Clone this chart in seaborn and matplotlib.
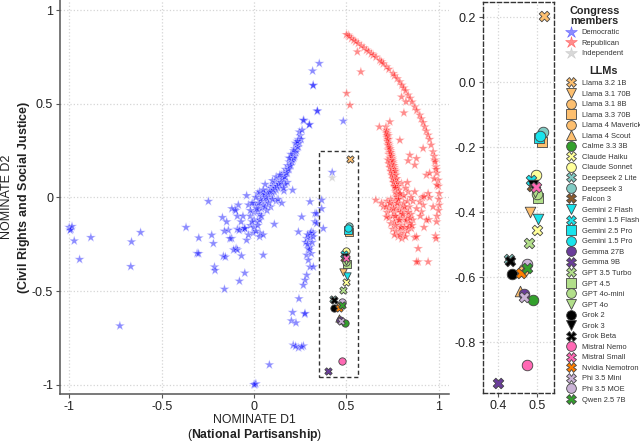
import numpy as np
import pandas as pd
import matplotlib
matplotlib.use("Agg")
import matplotlib.pyplot as plt
from matplotlib.lines import Line2D
from matplotlib.patches import Rectangle
import seaborn as sns

sns.set_style("white")
plt.rcParams['font.family'] = ['Liberation Sans', 'DejaVu Sans']
plt.rcParams['mathtext.fontset'] = 'custom'
plt.rcParams['mathtext.rm'] = 'Liberation Sans'
plt.rcParams['mathtext.bf'] = 'Liberation Sans:bold'
plt.rcParams['axes.unicode_minus'] = False

# ---------------- Congress members ----------------
dem_x = [-1.0, -0.99, -0.985, -0.995, -0.973, -0.944, -0.883, -0.663, -0.667, -0.614, -0.726,
         -0.368, -0.299, -0.308, -0.30, -0.247, -0.229, -0.22, -0.214, -0.211, -0.171, -0.166,
         -0.155, -0.16, -0.148, -0.139, -0.16, -0.121, -0.103, -0.097, -0.09, -0.079, -0.068,
         -0.05, -0.09, -0.06, -0.05, -0.04, -0.004, 0.032, 0.05, 0.083, 0.005, 0.01, 0.0, 0.11,
         0.162, -0.12, -0.11, -0.13,
         -0.04, -0.085, -0.1, -0.09, -0.06, -0.07, -0.08, -0.05, -0.03, -0.02, 0.0, 0.0, 0.02,
         0.01, 0.03, 0.05,
         -0.02, 0.0, 0.01, 0.02, 0.03, 0.03, 0.04, 0.04, 0.05, 0.05, 0.06, 0.06, 0.07, 0.07,
         0.08, 0.08, 0.09, 0.09, 0.10, 0.10, 0.11, 0.11, 0.12, 0.12, 0.13, 0.13, 0.14, 0.14,
         0.15, 0.15, 0.16, 0.16, 0.17, 0.17, 0.18, 0.18, 0.19, 0.19, 0.20, 0.20, 0.21, 0.21,
         0.22, 0.22, 0.23, 0.23, 0.24, 0.24, 0.25, 0.245, 0.26, 0.27, 0.30, 0.32, 0.342, 0.353,
         0.317, 0.32, 0.343, 0.483, 0.267, 0.299, 0.209, 0.06, 0.09, 0.12, 0.02, 0.18, 0.13,
         0.15, 0.07, 0.0, -0.03,
         0.303, 0.366, 0.33, 0.258, 0.24, 0.285, 0.28, 0.294, 0.285, 0.294, 0.303, 0.285, 0.276,
         0.267, 0.243, 0.209, 0.202, 0.227, 0.274, 0.212, 0.241, 0.267, 0.225, 0.312, 0.31, 0.33,
         0.339, 0.375, 0.366, 0.32, 0.339, 0.303, 0.321, 0.30, 0.29, 0.31, 0.276, 0.258, 0.30,
         0.315, 0.32, 0.305, 0.29, 0.423]
dem_y = [-0.16, -0.17, -0.155, -0.175, -0.232, -0.331, -0.214, -0.237, -0.369, -0.187, -0.686,
         -0.16, -0.216, -0.299, -0.30, -0.021, -0.201, -0.246, -0.371, -0.39, -0.107, -0.314,
         -0.318, -0.49, -0.13, -0.175, -0.18, -0.219, -0.063, -0.273, -0.28, -0.447, -0.312,
         -0.404, -0.17, -0.17, -0.165, -0.228, -0.19, -0.19, -0.308, -0.894, -1.0, -0.995, -1.0,
         -0.143, 0.035, -0.06, -0.28, -0.22,
         0.01, -0.04, -0.07, -0.1, -0.1, -0.13, -0.175, -0.166, -0.2, -0.15, -0.12, -0.16, -0.13,
         -0.18, -0.21, -0.2,
         -0.1, -0.08, -0.05, -0.07, -0.04, -0.09, -0.02, -0.06, 0.0, -0.04, 0.02, -0.02, 0.03,
         -0.01, 0.04, 0.0, 0.05, 0.01, 0.06, 0.02, 0.07, 0.03, 0.08, 0.04, 0.09, 0.05, 0.1, 0.06,
         0.12, 0.08, 0.13, 0.09, 0.15, 0.11, 0.17, 0.13, 0.19, 0.15, 0.21, 0.17, 0.23, 0.2,
         0.26, 0.22, 0.28, 0.25, 0.31, 0.27, 0.33, 0.35, 0.36, 0.41, 0.39, 0.6, 0.46, 0.716,
         0.676, 0.598, 0.463, 0.408, 0.413, 0.388, 0.039, 0.07, -0.05, -0.02, 0.02, 0.08, -0.01,
         -0.03, -0.07, -0.03, -0.04,
         -0.023, -0.014, -0.086, -0.104, -0.184, -0.219, -0.24, -0.273, -0.308, -0.335, -0.371,
         -0.415, -0.442, -0.469, -0.541, -0.614, -0.659, -0.67, -0.623, -0.789, -0.803, -0.793,
         -0.795, -0.184, -0.2, -0.13, -0.086, -0.166, -0.06, -0.19, -0.139, -0.264, -0.371,
         -0.22, -0.25, -0.30, -0.62, -0.798, -0.28, -0.24, -0.21, -0.19, -0.2, 0.134]
# dense core of the Democratic band
dem_core_x = [0.015, 0.025, 0.035, 0.045, 0.055, 0.065, 0.075, 0.085, 0.095, 0.105, 0.115, 0.125,
              0.135, 0.145, 0.155, 0.165, 0.175, 0.185, 0.195, 0.205, 0.215, 0.225, 0.235, 0.245,
              0.255, 0.215, 0.225, 0.235, 0.2, 0.19, 0.03, 0.02, 0.04, 0.06, 0.08, 0.1, -0.01,
              -0.02, -0.01, 0.01, 0.03, 0.05, 0.1, 0.12, 0.14, 0.17, 0.16]
dem_core_y = [-0.06, -0.03, -0.01, 0.01, 0.02, 0.0, 0.02, 0.03, 0.03, 0.04, 0.05, 0.06, 0.07,
              0.08, 0.1, 0.11, 0.13, 0.15, 0.17, 0.19, 0.21, 0.24, 0.27, 0.29, 0.31, 0.25, 0.29,
              0.3, 0.23, 0.21, -0.12, -0.15, -0.1, -0.05, -0.03, -0.01, -0.13, -0.07, -0.03, 0.0,
              0.03, 0.04, 0.09, 0.11, 0.12, 0.07, 0.05]

rep_x = [0.51, 0.50, 0.515, 0.528, 0.54, 0.55, 0.564, 0.58, 0.595, 0.609, 0.62, 0.635, 0.645,
         0.66, 0.681, 0.69, 0.70, 0.717, 0.73, 0.753, 0.76, 0.775, 0.789, 0.80, 0.81, 0.82,
         0.834, 0.845, 0.855, 0.87, 0.88, 0.897, 0.905, 0.915, 0.924, 0.932, 0.942, 0.95, 0.958,
         0.969, 0.975, 0.978, 0.984, 0.99, 0.996, 0.998, 1.002, 1.0, 1.002, 0.998, 0.99,
         0.559, 0.578, 0.501, 0.519, 0.678, 0.735, 0.798, 0.822, 0.811, 0.789, 0.915, 0.843,
         0.879, 0.834, 0.87, 0.933, 0.95, 0.975, 0.659, 0.915, 0.95, 0.98, 0.985, 0.99, 0.942,
         0.969, 0.906, 0.897, 0.946, 0.988, 0.982, 0.985, 0.87, 0.888, 0.888, 0.942, 0.879,
         0.879, 0.852, 0.798, 0.834, 0.87, 0.911, 0.92,
         0.714, 0.717, 0.72, 0.722, 0.724, 0.726, 0.73, 0.735, 0.74, 0.744, 0.748, 0.75, 0.753,
         0.757, 0.762, 0.765, 0.771, 0.73, 0.735, 0.74, 0.745, 0.75, 0.755, 0.76, 0.765, 0.77,
         0.775, 0.73, 0.728, 0.738, 0.742, 0.748, 0.752, 0.758, 0.762, 0.768, 0.772, 0.718,
         0.722, 0.727,
         0.72, 0.74, 0.76, 0.78, 0.80, 0.73, 0.75, 0.77, 0.79, 0.81, 0.83, 0.72, 0.74, 0.76,
         0.78, 0.80, 0.82, 0.84, 0.73, 0.75, 0.77, 0.79, 0.81, 0.83, 0.85, 0.74, 0.76, 0.78,
         0.80, 0.82, 0.84, 0.86, 0.75, 0.77, 0.79, 0.81, 0.83, 0.78, 0.80, 0.76, 0.717, 0.789,
         0.843, 0.933, 0.70, 0.69, 0.88, 0.86, 0.9, 0.92]
rep_y = [0.867, 0.87, 0.86, 0.849, 0.84, 0.832, 0.823, 0.81, 0.8, 0.787, 0.78, 0.768, 0.76,
         0.75, 0.733, 0.725, 0.715, 0.698, 0.685, 0.662, 0.65, 0.635, 0.618, 0.6, 0.585, 0.57,
         0.547, 0.53, 0.51, 0.484, 0.465, 0.44, 0.42, 0.4, 0.377, 0.355, 0.333, 0.31, 0.28,
         0.244, 0.22, 0.2, 0.164, 0.13, 0.092, 0.06, 0.021, -0.01, -0.041, -0.07, -0.1,
         0.778, 0.671, 0.556, 0.493, 0.377, 0.404, 0.537, 0.511, 0.452, 0.306, 0.262, 0.226,
         0.208, 0.196, 0.173, 0.119, 0.13, 0.1, -0.014, -0.041, 0.0, 0.19, 0.15, 0.066, 0.021,
         -0.05, -0.077, -0.023, -0.118, -0.13, -0.205, -0.22, -0.214, -0.273, -0.344, -0.344,
         -0.21, -0.344, -0.166, 0.075, 0.03, 0.03, 0.0, 0.005,
         0.377, 0.342, 0.32, 0.30, 0.28, 0.253, 0.23, 0.21, 0.19, 0.182, 0.15, 0.13, 0.11, 0.08,
         0.057, 0.03, 0.003, 0.26, 0.24, 0.22, 0.2, 0.17, 0.14, 0.12, 0.09, 0.06, 0.04, 0.28,
         0.31, 0.25, 0.23, 0.21, 0.18, 0.16, 0.13, 0.10, 0.07, 0.36, 0.34, 0.33,
         -0.02, -0.01, -0.02, -0.01, 0.0, -0.05, -0.04, -0.05, -0.04, -0.03, -0.02, -0.08, -0.07,
         -0.08, -0.07, -0.06, -0.07, -0.05, -0.11, -0.10, -0.11, -0.10, -0.11, -0.10, -0.09,
         -0.14, -0.13, -0.14, -0.15, -0.13, -0.14, -0.12, -0.17, -0.18, -0.17, -0.19, -0.18,
         -0.21, -0.22, -0.20, -0.104, -0.121, -0.139, -0.121, -0.05, -0.03, -0.06, -0.02, -0.1,
         -0.16]
# dense core of the Republican wedge and blob
rep_core_x = [0.716, 0.72, 0.724, 0.728, 0.732, 0.736, 0.74, 0.744, 0.748, 0.752, 0.756, 0.76,
              0.764, 0.768, 0.772, 0.776, 0.78, 0.784, 0.788, 0.725, 0.73, 0.735, 0.74, 0.745,
              0.75, 0.755, 0.76, 0.765, 0.77, 0.775, 0.78,
              0.715, 0.735, 0.755, 0.775, 0.795, 0.815, 0.835, 0.765, 0.785, 0.805, 0.825, 0.845,
              0.765, 0.795, 0.815, 0.835, 0.855, 0.79, 0.82, 0.81, 0.79, 0.82, 0.85, 0.83]
rep_core_y = [0.35, 0.33, 0.31, 0.29, 0.27, 0.26, 0.24, 0.22, 0.20, 0.19, 0.17, 0.15, 0.14,
              0.12, 0.10, 0.08, 0.06, 0.04, 0.02, 0.20, 0.18, 0.16, 0.14, 0.12, 0.10, 0.08, 0.06,
              0.05, 0.02, 0.0, -0.01,
              -0.05, -0.03, -0.06, -0.03, -0.08, -0.05, -0.08, -0.10, -0.12, -0.09, -0.12, -0.11,
              -0.15, -0.16, -0.16, -0.16, -0.15, -0.20, -0.21, 0.01, 0.02, 0.05, 0.0, 0.08]

ind_x = [0.423]
ind_y = [0.105]

# ---------------- LLMs ----------------
llm_names = ["Llama 3.2 1B", "Llama 3.1 70B", "Llama 3.1 8B", "Llama 3.3 70B", "Llama 4 Maverick",
             "Llama 4 Scout", "Calme 3.3 3B", "Claude Haiku", "Claude Sonnet", "Deepseek 2 Lite",
             "Deepseek 3", "Falcon 3", "Gemini 2 Flash", "Gemini 1.5 Flash", "Gemini 2.5 Pro",
             "Gemini 1.5 Pro", "Gemma 27B", "Gemma 9B", "GPT 3.5 Turbo", "GPT 4.5", "GPT 4o-mini",
             "GPT 4o", "Grok 2", "Grok 3", "Grok Beta", "Mistral Nemo", "Mistral Small",
             "Nvidia Nemotron", "Phi 3.5 Mini", "Phi 3.5 MOE", "Qwen 2.5 7B"]
llm_x = [0.519, 0.484, 0.468, 0.513, 0.464, 0.458, 0.490, 0.500, 0.498, 0.428, 0.516, 0.489,
         0.503, 0.485, 0.507, 0.509, 0.466, 0.400, 0.481, 0.503, 0.500, 0.496, 0.435, 0.491,
         0.430, 0.474, 0.498, 0.459, 0.468, 0.476, 0.474]
llm_y = [0.205, -0.400, -0.575, -0.183, -0.580, -0.642, -0.672, -0.454, -0.285, -0.543, -0.154,
         -0.321, -0.420, -0.301, -0.172, -0.165, -0.652, -0.925, -0.495, -0.355, -0.345, -0.338,
         -0.591, -0.316, -0.549, -0.872, -0.323, -0.588, -0.660, -0.559, -0.572]
llm_colors = ["#FDBF6F"] * 6 + ["#33A02C"] + ["#FFFF99"] * 2 + ["#80CBC4"] * 2 + ["#8B5A2B"] + \
             ["#19E3EC"] * 4 + ["#6A3D9A"] * 2 + ["#B2DF8A"] * 4 + ["#000000"] * 3 + \
             ["#FF69B4"] * 2 + ["#FF7F00"] + ["#CAB2D6"] * 2 + ["#33A02C"]
llm_markers = ["X", "v", "o", "s", "o", "^", "o", "X", "o", "X", "o", "X", "v", "X", "s", "o",
               "o", "X", "X", "s", "o", "v", "o", "v", "X", "o", "X", "X", "X", "o", "X"]

DEM_C, REP_C, IND_C = "#0000FF", "#FF0000", "#AAAAAA"

all_dem_x = dem_x + dem_core_x
all_dem_y = dem_y + dem_core_y
all_rep_x = rep_x + rep_core_x
all_rep_y = rep_y + rep_core_y
congress = pd.DataFrame({
    "x": all_dem_x + all_rep_x + ind_x,
    "y": all_dem_y + all_rep_y + ind_y,
    "party": ["Democratic"] * len(all_dem_x) + ["Republican"] * len(all_rep_x)
             + ["Independent"] * len(ind_x),
})
pal = dict(zip(llm_names, llm_colors))
mk = dict(zip(llm_names, llm_markers))

fig = plt.figure(figsize=(6.4, 4.42), dpi=100)
ax = fig.add_axes([60 / 640, 1 - 394 / 442, 389 / 640, 394 / 442])
ax2 = fig.add_axes([483 / 640, 1 - 393 / 442, 71 / 640, 391 / 442])

sns.scatterplot(data=congress, x="x", y="y", hue="party", marker="*", s=56,
                palette={"Democratic": DEM_C, "Republican": REP_C, "Independent": IND_C},
                alpha=0.45, linewidth=0.5, legend=False, ax=ax, zorder=2)
for a, s_llm in [(ax, 28), (ax2, 58)]:
    for name, xx, yy in zip(llm_names, llm_x, llm_y):
        sns.scatterplot(x=[xx], y=[yy], color=pal[name], marker=mk[name], s=s_llm,
                        edgecolor="#444444", linewidth=0.6, legend=False, ax=a, zorder=3)

# main axes styling
ax.set_xlim(-1.05, 1.055)
ax.set_ylim(-1.05, 1.055)
ax.set_xticks([-1, -0.5, 0, 0.5, 1])
ax.set_xticklabels(["-1", "-0.5", "0", "0.5", "1"])
ax.set_yticks([-1, -0.5, 0, 0.5, 1])
ax.set_yticklabels(["-1", "-0.5", "0", "0.5", "1"])
ax.grid(True, color="#D5D5D5", linestyle=":", linewidth=0.9)
ax.set_axisbelow(True)
for sp in ["top", "right"]:
    ax.spines[sp].set_visible(False)
for sp in ["left", "bottom"]:
    ax.spines[sp].set_color("#555555")
    ax.spines[sp].set_linewidth(1.1)
ax.tick_params(axis="both", which="both", direction="out", length=3, width=0.8,
               color="#555555", labelsize=9, labelcolor="#222222", left=True, bottom=True, pad=2)
ax.set_xlabel("NOMINATE D1\n" + r"($\bf{National\ Partisanship}$)", fontsize=8.8, color="#222222",
              linespacing=1.1, labelpad=0.5)
ax.set_ylabel("NOMINATE D2\n" + r"$\bf{(Civil\ Rights\ and\ Social\ Justice)}$", fontsize=9,
              color="#222222", linespacing=1.25)
ax.yaxis.set_label_coords(-0.072, 0.5)
ax.add_patch(Rectangle((0.35, -0.96), 0.21, 1.21, fill=False, edgecolor="#333333",
                       linestyle=(0, (3, 2)), linewidth=1.0, zorder=4))

# zoom axes styling
ax2.set_xlim(0.361, 0.545)
ax2.set_ylim(-0.957, 0.247)
ax2.set_xticks([0.4, 0.5])
ax2.set_xticklabels(["0.4", "0.5"])
ax2.set_yticks([0.2, 0.0, -0.2, -0.4, -0.6, -0.8])
ax2.set_yticklabels(["0.2", "0.0", "-0.2", "-0.4", "-0.6", "-0.8"])
ax2.grid(True, color="#D5D5D5", linestyle=":", linewidth=0.9)
ax2.set_axisbelow(True)
for sp in ax2.spines.values():
    sp.set_visible(True)
    sp.set_color("#333333")
    sp.set_linestyle((0, (3, 2)))
    sp.set_linewidth(1.0)
ax2.tick_params(axis="both", direction="out", length=3, width=0.8, color="#555555",
                labelsize=9, labelcolor="#222222", left=True, bottom=True, pad=2)
ax2.set_xlabel("")
ax2.set_ylabel("")

# legends
cong_handles = [Line2D([], [], marker="*", linestyle="None", markersize=9, color=c, alpha=0.45,
                       markeredgewidth=0.4)
                for c in [DEM_C, REP_C, IND_C]]
leg1 = fig.legend(cong_handles, ["Democratic", "Republican", "Independent"], loc="upper left",
                  bbox_to_anchor=(562 / 640, 1 - 1 / 442), frameon=False, fontsize=5.4,
                  title="Congress\nmembers", title_fontproperties={"weight": "bold", "size": 7.8},
                  handletextpad=0.8, labelspacing=0.45, borderpad=0.1, handlelength=1.2)
leg1._legend_title_box._text.set_linespacing(1.0)
llm_handles = [Line2D([], [], marker=m, linestyle="None", markersize=7, markerfacecolor=c,
                      markeredgecolor="#444444", markeredgewidth=0.6)
               for c, m in zip(llm_colors, llm_markers)]
leg2 = fig.legend(llm_handles, llm_names, loc="upper left",
                  bbox_to_anchor=(562 / 640, 1 - 62 / 442), frameon=False, fontsize=5.4,
                  title="LLMs", title_fontproperties={"weight": "bold", "size": 7.8},
                  handletextpad=0.8, labelspacing=0.44, borderpad=0.1, handlelength=1.2)
for t in leg1.get_texts() + leg2.get_texts():
    t.set_color("#333333")

fig.savefig("out.png", dpi=100)
